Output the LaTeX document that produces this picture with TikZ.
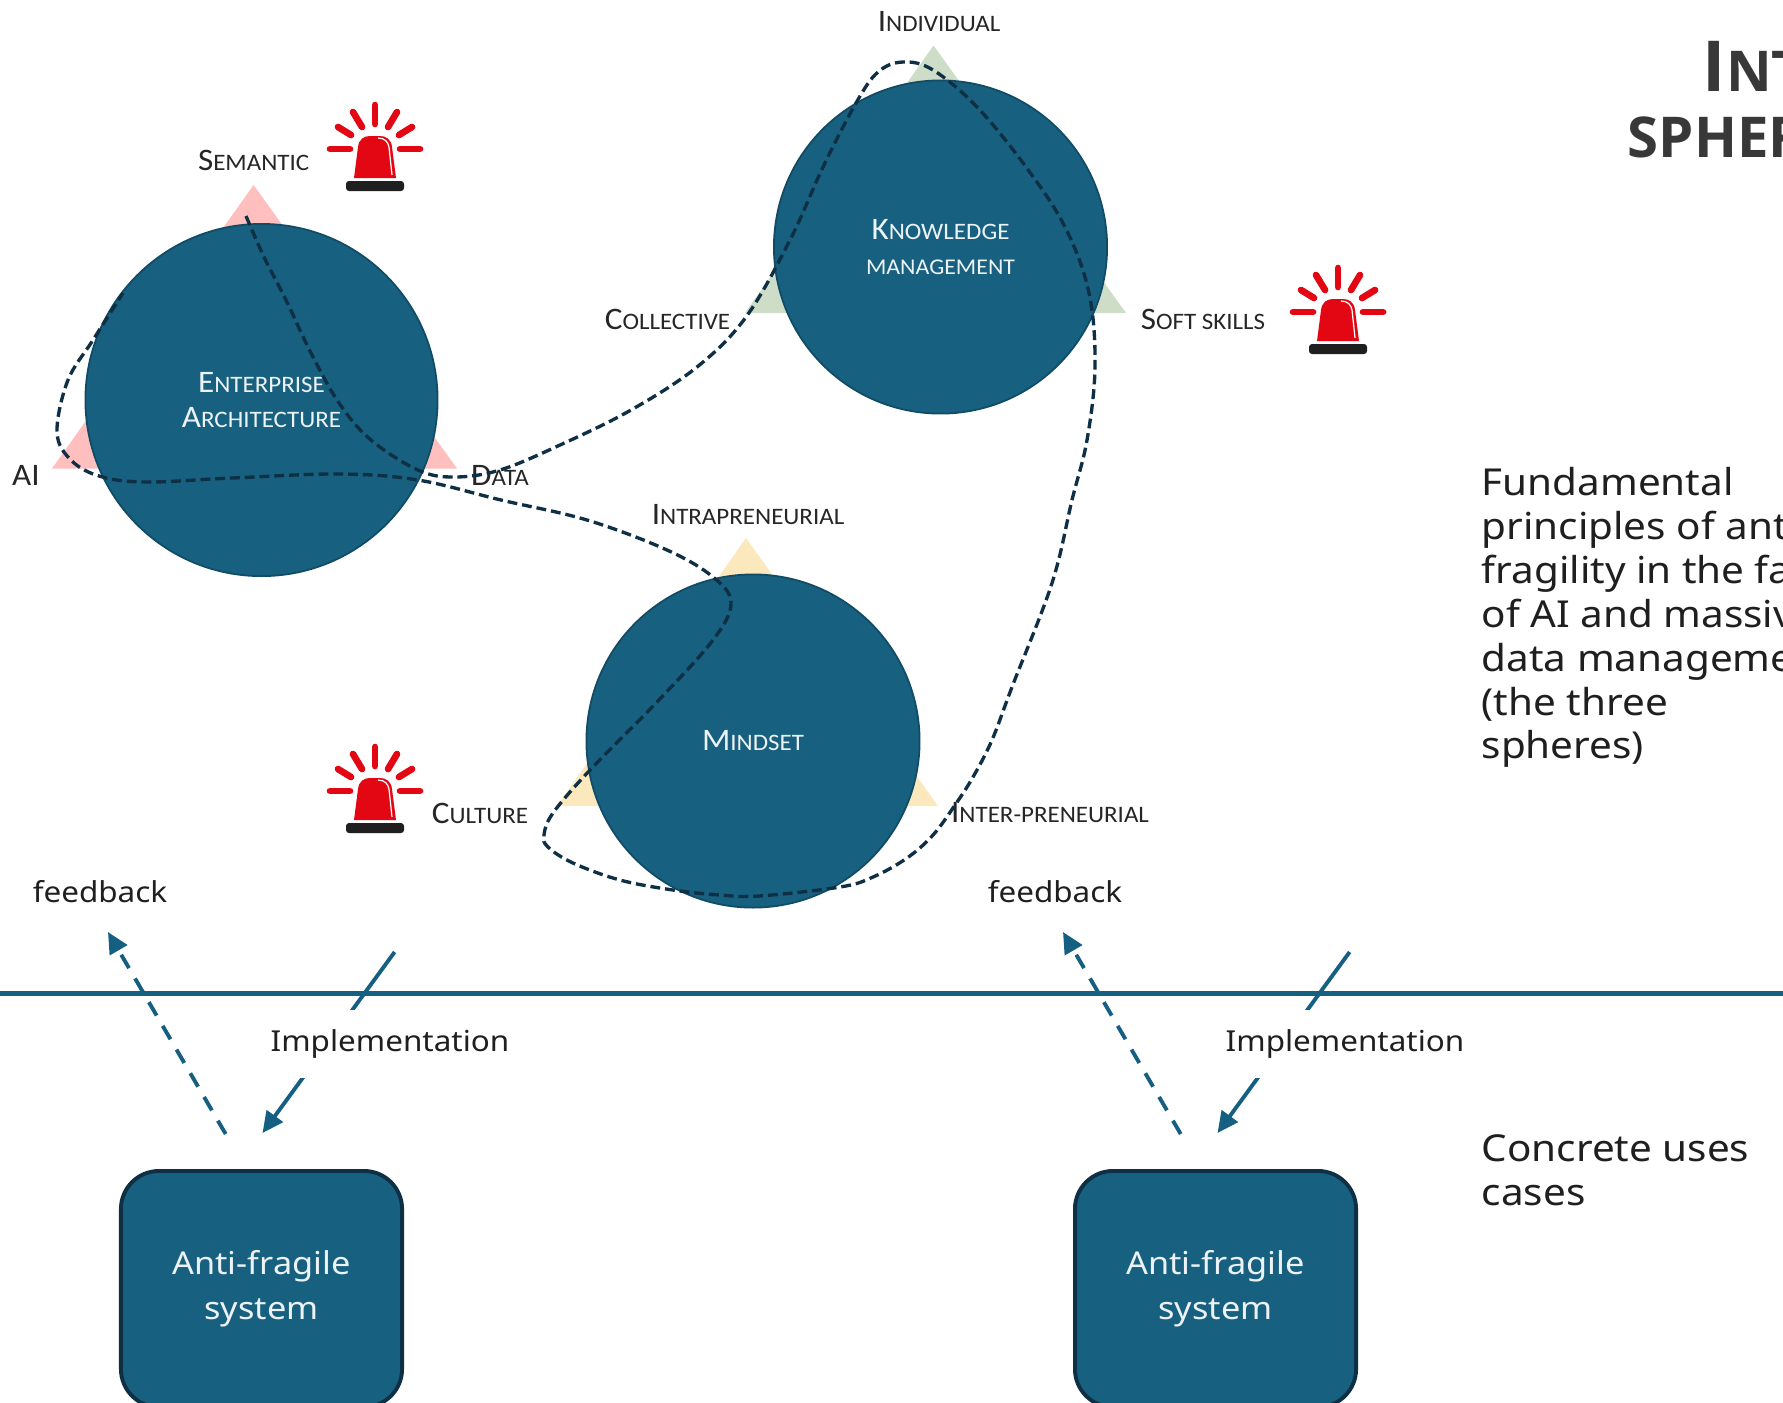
\documentclass[tikz,border=0pt]{standalone}
\usepackage{fontspec}
\setmainfont[FakeStretch=1.09]{Noto Sans}
\newfontfamily\capsfont[FakeStretch=1.06]{Carlito}
\newfontfamily\titlefont{Open Sans}
\usetikzlibrary{arrows.meta}
\definecolor{sblue}{HTML}{17607F}
\definecolor{sedge}{HTML}{114B66}
\definecolor{sdark}{HTML}{0E2F44}
\definecolor{sline}{HTML}{156082}
\definecolor{spink}{HTML}{FFBFBF}
\definecolor{sgreen}{HTML}{CDDDC8}
\definecolor{syellow}{HTML}{FBE8BC}
\definecolor{sred}{HTML}{E30613}
\newcommand{\capsl}[2]{{\fontsize{8.9}{10}\selectfont #1}{\fontsize{6.7}{10}\selectfont #2}}
\tikzset{
  sphere/.style={circle, fill=sblue, draw=sedge, line width=0.5pt, inner sep=0pt, outer sep=0pt, text=white!92!sblue, align=center, font=\capsfont\fontsize{8.9}{10}\selectfont},
  vertex/.style={inner sep=0pt, text=black!85, font=\capsfont},
  sysbox/.style={rectangle, rounded corners=0.38cm, fill=sblue, draw=sdark, line width=1.1pt, minimum width=2.81cm, minimum height=2.36cm, text=white!92!sblue, align=center, font=\fontsize{8.95}{12.8}\selectfont},
  plain/.style={inner sep=0pt, text=black!88, font=\fontsize{8.2}{10}\selectfont},
  note/.style={anchor=north west, inner sep=0pt, align=left, text=black!88, font=\fontsize{10.55}{12.46}\selectfont},
  impl/.style={plain, fill=white, minimum height=0.68cm},
  loopline/.style={draw=sdark, line width=0.95pt, dash pattern=on 2.8pt off 1.4pt},
  implarrow/.style={draw=sline, line width=1.1pt, -{Triangle[length=6pt,width=5.6pt]}},
  backarrow/.style={draw=sline, line width=1.1pt, dash pattern=on 4.4pt off 3.4pt, -{Triangle[length=6pt,width=5.6pt]}},
  alarm/.pic={
    \foreach \xa/\ya/\xb/\yb in {-45/0/-25/0, 45/0/25/0, 0/-44/0/-25, -22/-37/-13/-22, 22/-37/13/-22, -37/-22/-24/-14, 37/-22/24/-14}
      \draw[sred, line width=1.9pt, line cap=round] (\xa,\ya) -- (\xb,\yb);
    \fill[sred] (-21,29) -- (-17,-2) .. controls (-16,-10) and (-11,-13) .. (-5,-13) -- (5,-13) .. controls (11,-13) and (16,-10) .. (17,-2) -- (21,29) -- cycle;
    \draw[white, line width=0.35pt] (3,-11) .. controls (10,-11) and (13,-7) .. (14,-2) -- (17,26);
    \fill[black!88, rounded corners=0.03cm] (-29,32) rectangle (29,42);
  }
}
\begin{document}
\begin{tikzpicture}[x=0.01cm, y=-0.01cm]
\useasboundingbox (0,0) rectangle (1783,1402);
\clip (0,0) rectangle (1783,1402);
\fill[white] (0,0) rectangle (1783,1402);
\fill[spink] (253.6,185) -- (52,468.5) -- (457,468.5) -- cycle;
\fill[sgreen] (933.5,45.5) -- (745,313) -- (1126,313) -- cycle;
\fill[syellow] (746,538) -- (557,806) -- (938,806) -- cycle;
\node[sphere, minimum size=3.52cm] (sph0) at (261.5,400){\capsl{E}{NTERPRISE}\\\capsl{A}{RCHITECTURE}};
\node[sphere, minimum size=3.33cm] (sph1) at (940.5,247){\capsl{K}{NOWLEDGE}\\{\fontsize{6.4}{10}\selectfont MANAGEMENT}};
\node[sphere, minimum size=3.33cm] (sph2) at (753,741){\capsl{M}{INDSET}};
\node[vertex] (lab0) at (253.6,160){\capsl{S}{EMANTIC}};
\node[vertex] (lab1) at (26,475){\capsl{AI}{}};
\node[vertex] (lab2) at (500,475){\capsl{D}{ATA}};
\node[vertex] (lab3) at (939,22){\capsl{I}{NDIVIDUAL}};
\node[vertex] (lab4) at (667.5,319.5){\capsl{C}{OLLECTIVE}};
\node[vertex] (lab5) at (1203,319.5){\capsl{S}{OFT SKILLS}};
\node[vertex] (lab6) at (748,515){\capsl{I}{NTRAPRENEURIAL}};
\node[vertex] (lab7) at (480,813){\capsl{C}{ULTURE}};
\node[vertex] (lab8) at (1050,813){\capsl{I}{NTER-PRENEURIAL}};
\pic (al0) at (375,149) {alarm};
\pic (al1) at (1338,312) {alarm};
\pic (al2) at (375,791) {alarm};
\draw[loopline] plot[smooth, tension=0.6] coordinates {(246,216) (264,257) (286,300) (311,353) (339,403) (371,440) (418,470) (454,477) (500,470) (560,445) (631,410) (697,367) (746,317) (790,240) (823,167) (856,103) (878,72) (903,62) (933,70) (977,107) (1026,167) (1065,227) (1089,293) (1095,367) (1087,440) (1072,500) (1052,583) (1012,687) (992,740) (973,777) (955,805) (933,835) (907,858) (873,877) (840,887) (759,896) (720,895) (673,890) (620,880) (573,863) (548,847) (544,835) (553,813) (590,770) (656,703) (713,640) (731,603) (713,577) (667,550) (587,520) (501,500) (418,480) (339,474) (232,478) (143,482) (96,475) (68,457) (57,430) (68,380) (93,340) (123,293)};
\draw[draw=sline, line width=1.3pt] (0,993.5) -- (1783,993.5);
\coordinate (start0) at (394.6,952);
\coordinate (tip0) at (262.5,1133);
\coordinate (start1) at (225.7,1134);
\coordinate (tip1) at (108,932);
\coordinate (start2) at (1349.6,952);
\coordinate (tip2) at (1217.5,1133);
\coordinate (start3) at (1180.7,1134);
\coordinate (tip3) at (1063,932);
\draw[implarrow] (start0) -- (tip0);
\draw[backarrow] (start1) -- (tip1);
\draw[implarrow] (start2) -- (tip2);
\draw[backarrow] (start3) -- (tip3);
\node[impl] (imp0) at (390,1044){Implementation};
\node[impl] (imp1) at (1345,1044){Implementation};
\node[plain] (fb0) at (100,892){feedback};
\node[plain] (fb1) at (1055,892){feedback};
\node[sysbox] (sys0) at (261.5,1289){Anti-fragile\\system};
\node[sysbox] (sys1) at (1215.5,1289){Anti-fragile\\system};
\node[note] (txt0) at (1481,467){Fundamental\\principles of ant\\fragility in the fac\\of AI and massiv\\data manageme\\(the three\\spheres)};
\node[note] (txt1) at (1481,1134){Concrete uses\\cases};
\node[anchor=base west, inner sep=0pt, text=black!78, font=\titlefont\bfseries] (tit0) at (1702,91){{\fontsize{20}{24}\selectfont I}{\fontsize{16}{24}\selectfont NT}};
\node[anchor=base west, inner sep=0pt, text=black!78, font=\titlefont\bfseries] (tit1) at (1627,157){\fontsize{16}{24}\selectfont SPHER};
\end{tikzpicture}
\end{document}
